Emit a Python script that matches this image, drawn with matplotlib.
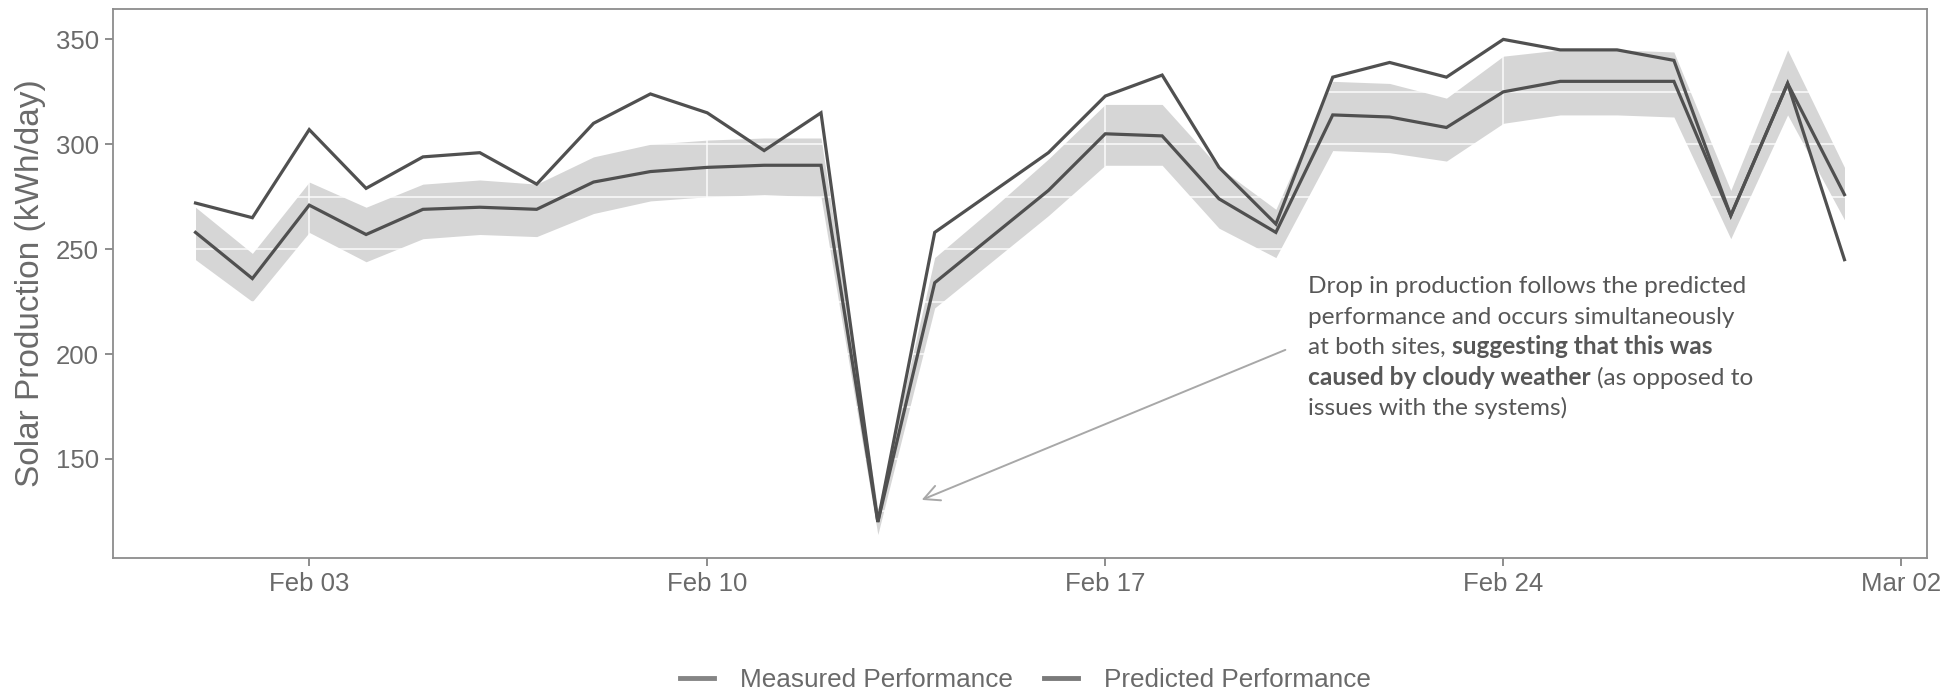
import matplotlib
matplotlib.use("Agg")
import matplotlib.dates as mdates
import matplotlib.pyplot as plt
import pandas as pd
from matplotlib.lines import Line2D

# daily production, kWh/day
days = pd.date_range("2020-02-01", "2020-03-01", freq="D")
measured = [272, 265, 307, 279, 294, 296, 281, 310, 324, 315,
            297, 315, 120, 258, 277, 296, 323, 333, 289, 262,
            332, 339, 332, 350, 345, 345, 340, 266, 329, 245]
predicted = [258, 236, 271, 257, 269, 270, 269, 282, 287, 289,
             290, 290, 120, 234, 256, 278, 305, 304, 274, 258,
             314, 313, 308, 325, 330, 330, 330, 266, 329, 276]
band_low = [245, 225, 258, 244, 255, 257, 256, 267, 273, 275,
            276, 275, 114, 222, 244, 266, 290, 290, 260, 246,
            297, 296, 292, 310, 314, 314, 313, 255, 314, 264]
band_high = [270, 248, 282, 270, 281, 283, 281, 294, 300, 302,
             303, 303, 126, 246, 269, 293, 319, 319, 289, 269,
             330, 329, 322, 342, 345, 345, 344, 278, 345, 289]

legend_labels = ["Measured Performance", "Predicted Performance"]
note_lines = [
    [("Drop in production follows the predicted", "normal")],
    [("performance and occurs simultaneously", "normal")],
    [("at both sites,", "normal"), ("suggesting that this was", "bold")],
    [("caused by cloudy weather", "bold"), ("(as opposed to", "normal")],
    [("issues with the systems)", "normal")],
]

LINE = "#505050"
TEXT = "#6a6a6a"

plt.rcParams["font.family"] = ["Liberation Sans", "DejaVu Sans"]

fig = plt.figure(figsize=(19.46, 6.9), dpi=100)
ax = fig.add_axes([0.0581, 0.1913, 0.9321, 0.7957])
ax.set_facecolor("white")

ax.fill_between(days, band_low, band_high, color="#d6d6d6", lw=0, zorder=1)

# white grid, only visible where it crosses the ribbon
for y in range(125, 375, 25):
    ax.axhline(y, color="white", lw=1.4, alpha=0.7, zorder=2)
for d in pd.date_range("2020-02-03", "2020-03-02", freq="7D"):
    ax.axvline(d, color="white", lw=1.4, alpha=0.7, zorder=2)

ax.plot(days, predicted, color=LINE, lw=2.3, zorder=3, solid_joinstyle="miter")
ax.plot(days, measured, color=LINE, lw=2.3, zorder=4, solid_joinstyle="miter")

pad = pd.Timedelta(days=1.45)
ax.set_xlim(days[0] - pad, days[-1] + pad)
ax.set_ylim(102.8, 364.5)

ax.xaxis.set_major_locator(mdates.WeekdayLocator(byweekday=mdates.MO))
ax.xaxis.set_major_formatter(mdates.DateFormatter("%b %d"))
ax.set_yticks([150, 200, 250, 300, 350])

for s in ax.spines.values():
    s.set_color("#8c8c8c")
    s.set_linewidth(1.3)
ax.tick_params(colors="#7a7a7a", labelcolor=TEXT, labelsize=18.5, length=6, width=1.2, pad=4)
ax.set_ylabel("Solar Production (kWh/day)", fontsize=24, color=TEXT, labelpad=7)

# callout text with bold fragments
x0 = pd.Timestamp("2020-02-20") + pd.Timedelta(hours=13.5)
y0 = 232
for i, parts in enumerate(note_lines):
    prev = None
    for text, weight in parts:
        kw = dict(fontsize=17.6, color="#575757", fontweight=weight,
                  family=["Lato", "DejaVu Sans"], zorder=5)
        if prev is None:
            prev = ax.annotate(text, xy=(x0, y0), xytext=(0, -21.8 * i),
                               textcoords="offset points", ha="left", va="center", **kw)
        else:
            prev = ax.annotate(text, xy=(1, 0), xycoords=prev, xytext=(4.4, 0),
                               textcoords="offset points", ha="left", va="bottom", **kw)

ax.annotate("", xy=(pd.Timestamp("2020-02-13") + pd.Timedelta(hours=18.5), 130.5),
            xytext=(pd.Timestamp("2020-02-20") + pd.Timedelta(hours=4), 202),
            arrowprops=dict(arrowstyle="->", color="#a8a8a8", lw=1.4,
                            mutation_scale=28, shrinkA=0, shrinkB=0), zorder=5)

handles = [Line2D([], [], color="#858585", lw=3.5), Line2D([], [], color="#7a7a7a", lw=3.5)]
fig.legend(handles, legend_labels, loc="center", bbox_to_anchor=(0.527, 0.0145), ncol=2,
           frameon=False, fontsize=18.8, labelcolor=TEXT, handlelength=1.3,
           handletextpad=1.0, columnspacing=1.2)

fig.savefig("out.png", dpi=100, facecolor="white")
